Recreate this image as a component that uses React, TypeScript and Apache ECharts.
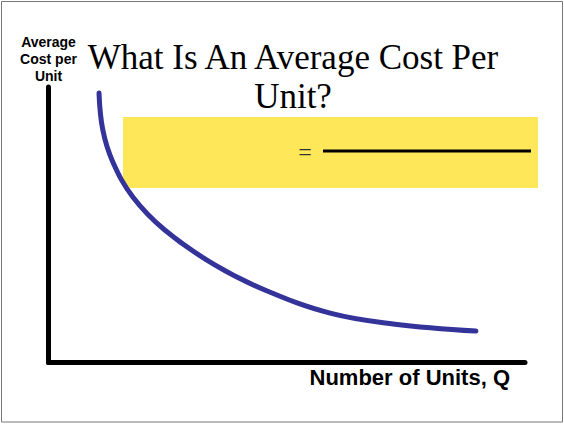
import React, { useEffect, useRef } from "react";
import * as echarts from "echarts";

const titleLines = ["What Is An Average Cost Per", "Unit?"];
const yAxisName = ["Average", "Cost per", "Unit"];
const xAxisName = "Number of Units, Q";

// Number of units (x) and average cost per unit (y), arbitrary units 0-100
const quantity = [10.6, 11.4, 13.5, 17.7, 24.4, 34.9, 45.4, 59.1, 72.3, 89.7];
const avgCost = [97.8, 84.4, 72.8, 60.1, 48.1, 35.4, 26.3, 17.9, 14.0, 11.4];

export default function App() {
  const ref = useRef<HTMLDivElement>(null);

  useEffect(() => {
    document.body.style.margin = "0";
    if (!ref.current) return;
    const chart = echarts.init(ref.current, null, { renderer: "svg" });
    const data = quantity.map((q, i) => [q, avgCost[i]]);
    chart.setOption({
      animation: false,
      backgroundColor: "#ffffff",
      title: {
        text: titleLines.join("\n"),
        left: 288,
        textAlign: "center",
        top: 33,
        textStyle: {
          fontFamily: "Liberation Serif",
          fontSize: 35,
          fontWeight: "normal",
          lineHeight: 39,
          color: "#000000",
        },
      },
      grid: { left: 48.5, right: 39, top: 87, bottom: 61.5 },
      xAxis: {
        type: "value",
        min: 0,
        max: 100,
        name: xAxisName,
        nameLocation: "end",
        nameGap: -15,
        nameTextStyle: {
          fontFamily: "Liberation Sans",
          fontSize: 22,
          fontWeight: "bold",
          color: "#000000",
          align: "right",
          verticalAlign: "top",
          padding: [4, 0, 0, 0],
        },
        axisLine: { show: true, lineStyle: { color: "#000000", width: 5 } },
        axisTick: { show: false },
        axisLabel: { show: false },
        splitLine: { show: false },
      },
      yAxis: {
        type: "value",
        min: 0,
        max: 100,
        name: yAxisName.join("\n"),
        nameLocation: "end",
        nameGap: 3,
        nameTextStyle: {
          fontFamily: "Liberation Sans",
          fontSize: 14,
          fontWeight: "bold",
          lineHeight: 17,
          color: "#000000",
          align: "center",
          verticalAlign: "bottom",
        },
        axisLine: { show: true, lineStyle: { color: "#000000", width: 5 } },
        axisTick: { show: false },
        axisLabel: { show: false },
        splitLine: { show: false },
      },
      graphic: [
        {
          type: "rect",
          z: 0,
          shape: { x: 1.5, y: 1.5, width: 561, height: 420.5 },
          style: { fill: "none", stroke: "#777777", lineWidth: 1 },
        },
        {
          type: "rect",
          z: 0,
          shape: { x: 123, y: 117, width: 415, height: 71 },
          style: { fill: "#FFE75A" },
        },
        {
          type: "text",
          z: 1,
          x: 305,
          y: 152,
          style: {
            text: "=",
            fontFamily: "Liberation Serif",
            fontSize: 24,
            fill: "#333333",
            align: "center",
            verticalAlign: "middle",
          },
        },
        {
          type: "line",
          z: 1,
          shape: { x1: 323, y1: 151, x2: 531, y2: 151 },
          style: { stroke: "#000000", lineWidth: 3 },
        },
      ],
      series: [
        {
          type: "line",
          data,
          z: 5,
          smooth: 0.4,
          showSymbol: false,
          symbol: "none",
          lineStyle: { color: "#333399", width: 5, cap: "round" },
        },
      ],
    });
    return () => chart.dispose();
  }, []);

  return <div ref={ref} style={{ width: 564, height: 424 }} />;
}
